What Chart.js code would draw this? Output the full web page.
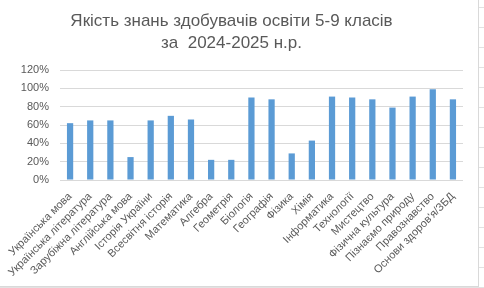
<!DOCTYPE html>
<html>
<head>
<meta charset="utf-8">
<script src="https://cdn.jsdelivr.net/npm/chart.js@4.4.1/dist/chart.umd.min.js"></script>
<style>
  html, body { margin: 0; padding: 0; width: 484px; height: 288px; overflow: hidden; background: #ffffff; }
  #cells { position: absolute; left: 0; top: 0; width: 484px; height: 288px;
    background-image:
      repeating-linear-gradient(to right, transparent 0, transparent 16px, #e2e2e2 16px, #e2e2e2 17px, transparent 17px, transparent 64px),
      repeating-linear-gradient(to bottom, transparent 0, transparent 7px, #e2e2e2 7px, #e2e2e2 8px, transparent 8px, transparent 20px);
  }
  #wrap { position: absolute; left: 0; top: 0; width: 478px; height: 286px; background: #fff;
    border-right: 1px solid #d9d9d9; border-bottom: 1px solid #d9d9d9; }
</style>
</head>
<body>
<div id="cells"></div>
<div id="wrap"><canvas id="c" width="478" height="286"></canvas></div>
<script>
const titleLines = ["Якість знань здобувачів освіти 5-9 класів", "за  2024-2025 н.р."];
const categories = [
  "Українська мова", "Українська література", "Зарубіжна література", "Англійська мова",
  "Історія України", "Всесвітня історія", "Математика", "Алгебра", "Геометрія",
  "Біологія", "Географія", "Фізика", "Хімія", "Інформатика", "Технології",
  "Мистецтво", "Фізична культура", "Пізнаємо природу", "Правознавство", "Основи здоров'я/ЗБД"
];
const quality = [0.62, 0.65, 0.65, 0.25, 0.65, 0.70, 0.66, 0.22, 0.22,
  0.90, 0.88, 0.29, 0.43, 0.91, 0.90, 0.88, 0.79, 0.91, 0.99, 0.88];
const yTicks = [0, 0.2, 0.4, 0.6, 0.8, 1.0, 1.2];

const textColor = '#595959';
const font = 'Liberation Sans, Arial, sans-serif';

new Chart(document.getElementById('c'), {
  type: 'bar',
  data: {
    labels: categories,
    datasets: [{
      data: quality,
      backgroundColor: '#5b9bd5',
      barPercentage: 0.31,
      categoryPercentage: 1.0
    }]
  },
  options: {
    responsive: false,
    animation: false,
    layout: { padding: { left: 0, right: 15, top: 0, bottom: 0 } },
    plugins: {
      legend: { display: false },
      tooltip: { enabled: false },
      title: {
        display: true,
        text: titleLines,
        color: textColor,
        font: { family: font, size: 17, weight: 'normal', lineHeight: 22 / 17 },
        padding: { top: 10, bottom: 16 }
      }
    },
    scales: {
      x: {
        grid: { display: false },
        border: { display: false },
        ticks: {
          autoSkip: false,
          minRotation: 45,
          maxRotation: 45,
          padding: 2,
          color: textColor,
          font: { family: font, size: 11 }
        },
        afterFit: (s) => { s.height = 106; }
      },
      y: {
        min: 0,
        max: 1.2,
        afterBuildTicks: (s) => { s.ticks = yTicks.map(v => ({ value: v })); },
        grid: { color: '#d9d9d9', lineWidth: 1, drawTicks: false },
        border: { display: false },
        ticks: {
          padding: 11,
          color: textColor,
          font: { family: font, size: 11 },
          callback: (v) => Math.round(v * 100) + '%'
        },
        afterFit: (s) => { s.width = 60; }
      }
    }
  }
});
</script>
</body>
</html>
